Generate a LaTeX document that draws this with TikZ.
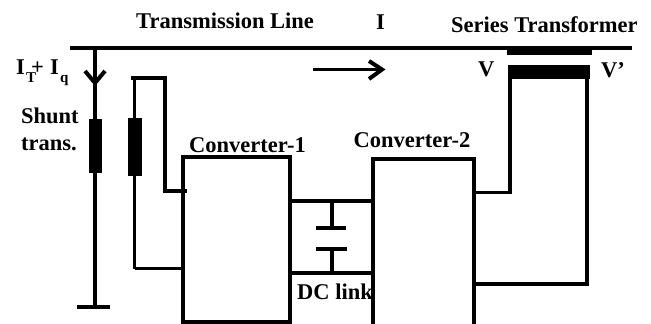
\documentclass[tikz,border=0pt]{standalone}
\usepackage{fontspec}
\setmainfont{Liberation Serif}
\tikzset{
 wire/.style={line width=3.4pt,line cap=butt},
 lab/.style={font=\bfseries\fontsize{22.5}{24}\selectfont,inner sep=0pt,text=black,anchor=base west},
 sublab/.style={lab,font=\bfseries\fontsize{15}{16}\selectfont},
 box/.style={draw,line width=3.4pt,inner sep=0pt},
}
\begin{document}
\begin{tikzpicture}[x=1pt,y=-1pt]
\useasboundingbox (0,0) rectangle (651,324);
% coordinates
\coordinate (lineL) at (70,48);
\coordinate (lineR) at (632,48);
\coordinate (sTop) at (95,48);
\coordinate (sBot) at (95,307);
\coordinate (gL) at (77,307);
\coordinate (gR) at (110,307);
\coordinate (aL) at (85,71);
\coordinate (aT) at (95,83);
\coordinate (aR) at (105,71);
\coordinate (c1a) at (131,78);
\coordinate (c1b) at (165,78);
\coordinate (c1c) at (165,191);
\coordinate (c1d) at (187,191);
\coordinate (c2a) at (134.5,78);
\coordinate (c2b) at (134.5,269);
\coordinate (c2c) at (183,268.5);
\coordinate (dc1a) at (290,201);
\coordinate (dc1b) at (373,201);
\coordinate (dc2a) at (290,273);
\coordinate (dc2b) at (373,273);
\coordinate (capTop) at (332,201);
\coordinate (capA) at (332,228);
\coordinate (capB) at (332,249);
\coordinate (capBot) at (332,273);
\coordinate (p1L) at (316,228);
\coordinate (p1R) at (346,228);
\coordinate (p2L) at (316,249);
\coordinate (p2R) at (347,249);
\coordinate (o1) at (474,192.5);
\coordinate (o2) at (510,192.5);
\coordinate (o3) at (510,70);
\coordinate (o4) at (474,284);
\coordinate (o5) at (587,284);
\coordinate (o6) at (587,70);
\coordinate (iL) at (313,69.5);
\coordinate (iR) at (382,69.5);
\coordinate (iU) at (369,61);
\coordinate (iD) at (369,79);
% wiring
\draw[wire] (lineL) -- (lineR);
\draw[wire] (sTop) -- (sBot);
\draw[wire] (gL) -- (gR);
\draw[wire,line width=4pt,line join=miter] (aL) -- (aT) -- (aR);
\draw[wire] (c1a) -- (c1b) -- (c1c) -- (c1d);
\draw[wire] (c2a) -- (c2b);
\draw[wire] (c2a |- c2c) -- (c2c);
\fill[black] (89,119) rectangle (102,173);
\fill[black] (128,118) rectangle (142,176);
% converters
\draw[box] (183,157) rectangle (290,322);
\draw[wire] (373,330) -- (373,159) -- (474,159) -- (474,330);
% DC link
\draw[wire] (dc1a) -- (dc1b);
\draw[wire] (dc2a) -- (dc2b);
\draw[wire] (capTop) -- (capA);
\draw[wire] (capB) -- (capBot);
\draw[wire] (p1L) -- (p1R);
\draw[wire] (p2L) -- (p2R);
% series side
\draw[wire] (o1) -- (o2) -- (o3);
\draw[wire] (o4) -- (o5) -- (o6);
\fill[black] (507,48) rectangle (592,55);
\fill[black] (508,65) rectangle (590,79);
% current arrow
\draw[wire] (iL) -- (iR);
\draw[wire,line width=4pt] (iU) -- (iR) -- (iD);
% labels
\node[lab] (t1) at (136,28) {Transmission Line};
\node[lab] (t2) at (376,30) {I};
\node[lab] (t3) at (451,32) {Series Transformer};
\node[lab] (t4) at (16,74) {I};
\node[sublab] (t5) at (26,82) {T};
\node[lab] (t6) at (31,74) {+};
\node[lab] (t6b) at (50,74) {I};
\node[sublab] (t7) at (60,82) {q};
\node[lab] (t8) at (21,123) {Shunt};
\node[lab] (t9) at (21,150) {trans.};
\node[lab] (t10) at (189,152) {Converter-1};
\node[lab] (t11) at (353.5,147) {Converter-2};
\node[lab] (t12) at (297,299) {DC link};
\node[lab] (t13) at (478,76) {V};
\node[lab] (t14) at (601,77) {V'};
\end{tikzpicture}
\end{document}
